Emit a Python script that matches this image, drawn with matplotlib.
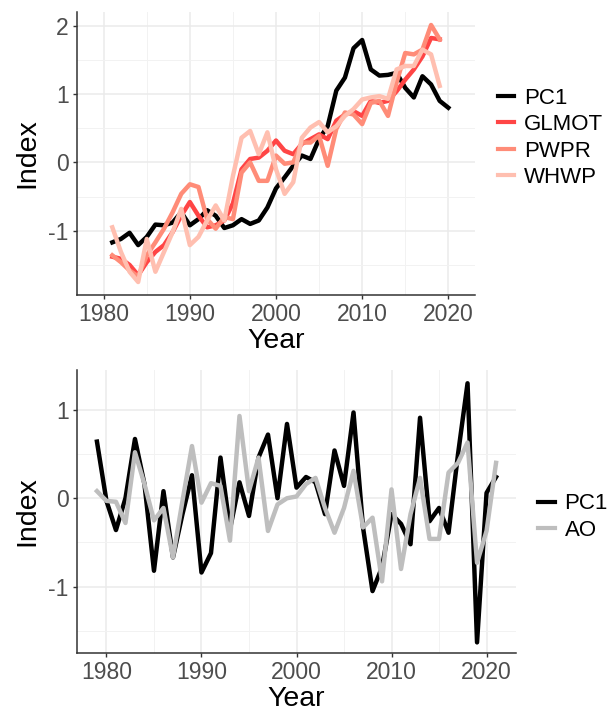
import matplotlib.pyplot as plt
from matplotlib.ticker import MultipleLocator

plt.rcParams['font.family'] = ['Liberation Sans', 'DejaVu Sans']

# top panel: PC1 against three indices
years_top = list(range(1981, 2021))
pc1_top = [-1.17, -1.12, -1.03, -1.21, -1.09, -0.91, -0.92, -0.88, -0.73, -0.92,
           -0.83, -0.70, -0.78, -0.96, -0.92, -0.83, -0.90, -0.85, -0.66, -0.38,
           -0.22, -0.05, 0.10, 0.05, 0.34, 0.53, 1.05, 1.24, 1.67, 1.79,
           1.36, 1.27, 1.28, 1.31, 1.09, 0.95, 1.26, 1.14, 0.90, 0.80]
years_idx = list(range(1981, 2020))
glmot = [-1.38, -1.41, -1.50, -1.65, -1.46, -1.31, -1.21, -1.02, -0.78, -0.58,
         -0.78, -0.95, -0.92, -0.85, -0.60, -0.10, 0.05, 0.07, 0.17, 0.32,
         0.17, 0.12, 0.27, 0.34, 0.41, 0.34, 0.61, 0.70, 0.75, 0.68,
         0.90, 0.87, 0.90, 1.04, 1.21, 1.36, 1.55, 1.82, 1.80]
pwpr = [-1.36, -1.46, -1.58, -1.67, -1.36, -1.17, -0.97, -0.73, -0.46, -0.32,
        -0.36, -0.83, -0.97, -0.80, -0.83, -0.15, 0.00, -0.27, -0.27, 0.10,
        -0.02, 0.00, 0.29, 0.29, 0.39, -0.05, 0.49, 0.73, 0.70, 0.56,
        0.87, 0.90, 0.68, 1.17, 1.60, 1.58, 1.65, 2.01, 1.80]
whwp = [-0.95, -1.31, -1.60, -1.75, -1.12, -1.60, -1.31, -1.02, -0.68, -1.21,
        -1.09, -0.85, -0.63, -0.85, -0.20, 0.36, 0.46, 0.12, 0.44, -0.10,
        -0.46, -0.29, 0.36, 0.51, 0.59, 0.44, 0.53, 0.68, 0.78, 0.92,
        0.95, 0.97, 0.93, 1.36, 1.41, 1.41, 1.65, 1.58, 1.12]

# bottom panel: PC1 against AO
years_bot = list(range(1979, 2022))
pc1_bot = [0.64, -0.03, -0.36, 0.00, 0.67, 0.16, -0.82, 0.08, -0.67, -0.18,
           0.26, -0.84, -0.62, 0.46, -0.35, 0.18, -0.20, 0.46, 0.72, 0.00,
           0.84, 0.12, 0.24, 0.18, -0.18, 0.54, 0.14, 0.97, -0.33, -1.05,
           -0.78, -0.18, -0.29, -0.52, 0.91, -0.26, -0.11, -0.39, 0.50, 1.30,
           -1.63, 0.06, 0.24]
ao = [0.08, -0.03, -0.04, -0.28, 0.52, 0.16, -0.25, -0.11, -0.67, -0.03,
      0.59, -0.05, 0.17, 0.14, -0.48, 0.93, 0.08, 0.46, -0.37, -0.07,
      0.00, 0.02, 0.16, 0.23, -0.11, -0.39, -0.11, 0.31, -0.33, -0.22,
      -0.94, 0.10, -0.80, -0.18, 0.23, -0.46, -0.46, 0.29, 0.40, 0.63,
      -0.73, -0.37, 0.40]

W, H = 613, 711
fig = plt.figure(figsize=(W / 100, H / 100), dpi=100)


def box(l, t, r, b):
    return [l / W, 1 - b / H, (r - l) / W, (b - t) / H]


def style(ax, ylim, ymaj):
    ax.set_xlim(1976.9, 2023.1)
    ax.set_ylim(*ylim)
    ax.xaxis.set_major_locator(MultipleLocator(10))
    ax.xaxis.set_minor_locator(MultipleLocator(5))
    ax.yaxis.set_major_locator(MultipleLocator(ymaj))
    ax.yaxis.set_minor_locator(MultipleLocator(ymaj / 2))
    ax.grid(True, which='major', color='#EBEBEB', lw=1.1)
    ax.grid(True, which='minor', color='#F2F2F2', lw=0.7)
    ax.set_axisbelow(True)
    for s in ['top', 'right']:
        ax.spines[s].set_visible(False)
    for s in ['left', 'bottom']:
        ax.spines[s].set_color('#333333')
        ax.spines[s].set_linewidth(1.1)
    ax.tick_params(which='major', length=3, width=1, color='#333333',
                   labelsize=16.5, labelcolor='#4D4D4D', pad=3)
    ax.tick_params(which='minor', length=0)
    ax.set_xlabel('Year', fontsize=20.5, labelpad=1)
    ax.set_ylabel('Index', fontsize=20.5, labelpad=6)


def add_legend(ax, anchor):
    leg = ax.legend(loc='center left', bbox_to_anchor=anchor, frameon=False,
                    fontsize=16, handlelength=0.75, handletextpad=0.45,
                    labelspacing=0.25, borderpad=0, borderaxespad=0)
    for h in leg.get_lines():
        h.set_linewidth(3)


ax1 = fig.add_axes(box(77, 12, 475, 295))
ax1.plot(years_top, pc1_top, color='black', lw=3.2, label='PC1')
ax1.plot(years_idx, glmot, color='#FF4545', lw=3.2, label='GLMOT')
ax1.plot(years_idx, pwpr, color='#FF8C78', lw=3.2, label='PWPR')
ax1.plot(years_idx, whwp, color='#FFBFB0', lw=3.2, label='WHWP')
style(ax1, (-1.94, 2.2), 1)
ax1.set_yticks([-1, 0, 1, 2])
ax1.set_yticklabels(['-1', '0', '1', '2'])
add_legend(ax1, (1.057, 0.555))

ax2 = fig.add_axes(box(77, 370, 516, 653))
ax2.plot(years_bot, pc1_bot, color='black', lw=3.2, label='PC1')
ax2.plot(years_bot, ao, color='#BEBEBE', lw=3.2, label='AO')
style(ax2, (-1.75, 1.45), 1)
ax2.set_yticks([-1, 0, 1])
ax2.set_yticklabels(['-1', '0', '1'])
add_legend(ax2, (1.05, 0.48))

fig.savefig('out.png', dpi=100)
